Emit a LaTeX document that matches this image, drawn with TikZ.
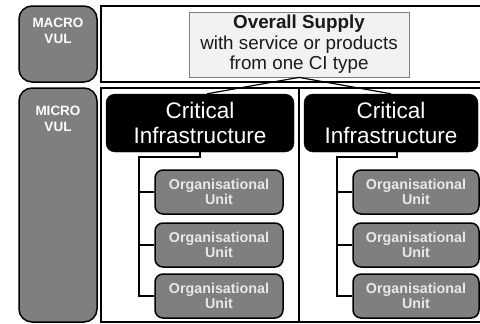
\documentclass[tikz,border=0pt]{standalone}
\usepackage{fontspec}
\setmainfont{Liberation Sans}
\definecolor{vulgray}{HTML}{7F7F7F}
\definecolor{supfill}{HTML}{F2F2F2}
\definecolor{orgtext}{HTML}{E8E8E8}
\definecolor{suptext}{HTML}{1A1A1A}
\begin{document}
\begin{tikzpicture}[x=1pt,y=-1pt,
  vulbox/.style={draw=black,line width=1.5pt,fill=vulgray,rounded corners=13pt,minimum width=78pt,inner sep=0pt},
  vultext/.style={text=white,font=\bfseries\fontsize{13.5}{16}\selectfont,align=center,inner sep=0pt,anchor=north},
  frame/.style={draw=black,line width=1.6pt},
  supply/.style={draw=vulgray,line width=0.8pt,fill=supfill,minimum width=220pt,minimum height=65pt,align=center,inner sep=0pt,text=suptext,font=\fontsize{18.8}{20.5}\selectfont},
  cibox/.style={fill=black,draw=black,rounded corners=9pt,minimum height=58pt,align=center,inner sep=0pt,text=white,font=\fontsize{22.5}{25}\selectfont},
  orgbox/.style={fill=vulgray,draw=black,line width=1.5pt,rounded corners=8pt,minimum height=44pt,align=center,inner sep=0pt,text=orgtext,font=\bfseries\fontsize{14.3}{15}\selectfont},
  conn/.style={draw=black,line width=1.6pt},
  thin/.style={draw=black,line width=1.2pt}]
\useasboundingbox (0,0) rectangle (480,324);
% side boxes
\node[vulbox,minimum height=76pt] (macro) at (58,44) {};
\node[vultext] (macrot) at (58,18) {MACRO\\VUL};
\node[vulbox,minimum height=234pt] (micro) at (58,205) {};
\node[vultext] (microt) at (58,106) {MICRO\\VUL};
% frames
\draw[frame] (484,6) -- (101,6) -- (101,82) -- (484,82);
\draw[frame] (484,88) -- (101,88) -- (101,322) -- (484,322);
\coordinate (divtop) at (299,88);
\coordinate (divbot) at (299,322);
\draw[thin] (divtop) -- (divbot);
% overall supply
\node[supply] (sup) at (299,44.5) {\textbf{Overall Supply}\\with service or products\\from one CI type};
% CI boxes
\node[cibox,minimum width=188pt] (ciL) at (200,123) {Critical\\Infrastructure};
\node[cibox,minimum width=174pt] (ciR) at (391,123) {Critical\\Infrastructure};
\draw[thin] ([xshift=7pt]ciL.north) -- (sup.south) -- (ciR.north);
% org units left
\node[orgbox,minimum width=128pt] (oL1) at (219,192) {Organisational\\Unit};
\node[orgbox,minimum width=128pt] (oL2) at (219,245) {Organisational\\Unit};
\node[orgbox,minimum width=128pt] (oL3) at (219,296) {Organisational\\Unit};
% org units right
\node[orgbox,minimum width=126pt] (oR1) at (416,192) {Organisational\\Unit};
\node[orgbox,minimum width=126pt] (oR2) at (416,245) {Organisational\\Unit};
\node[orgbox,minimum width=126pt] (oR3) at (416,296) {Organisational\\Unit};
% tree connectors left
\coordinate (tL) at (139,157);
\draw[conn] (ciL.south) -- (200,157) -- (tL) -- (tL |- oL3.west) -- (oL3.west);
\draw[conn] (tL |- oL1.west) -- (oL1.west);
\draw[conn] (tL |- oL2.west) -- (oL2.west);
% tree connectors right
\coordinate (tR) at (337,157);
\draw[conn] ([xshift=6pt]ciR.south) -- (397,157) -- (tR) -- (tR |- oR3.west) -- (oR3.west);
\draw[conn] (tR |- oR1.west) -- (oR1.west);
\draw[conn] (tR |- oR2.west) -- (oR2.west);
\end{tikzpicture}
\end{document}
